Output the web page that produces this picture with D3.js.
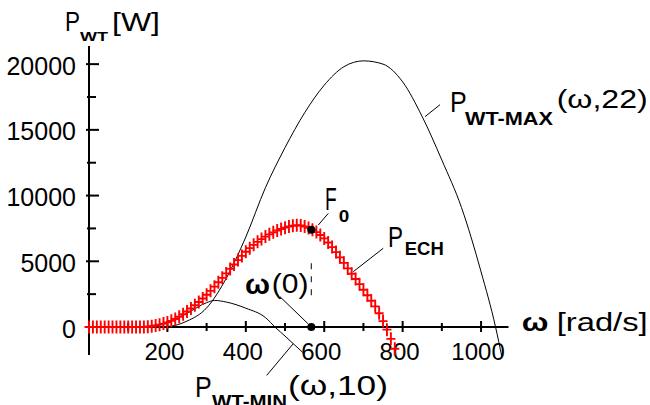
<!DOCTYPE html>
<html>
<head>
<meta charset="utf-8">
<script src="https://cdn.jsdelivr.net/npm/d3@7"></script>
<style>
body { margin: 0; background: #fff; }
svg { display: block; font-family: "Liberation Sans", Arial, sans-serif; }
</style>
</head>
<body>
<script>
// P_WT-MAX(w,22)
const maxOmega = [0, 150, 200, 250, 300, 350, 400, 450, 500, 550, 600, 650, 700, 750, 800, 850, 900, 950, 1000, 1037, 1053]
const maxPower = [0, 0, 40, 450, 1450, 3700, 6850, 10600, 13650, 16300, 18400, 19800, 20250, 20000, 18650, 16000, 12700, 9100, 4200, 0, -2260]

// P_WT-MIN(w,10)
const minOmega = [0, 100, 150, 200, 250, 300, 320, 350, 400, 450, 476, 500, 521, 550]
const minPower = [0, 0, 60, 380, 1050, 1850, 2020, 1900, 1430, 720, -50, -690, -1270, -2060]

// P_ECH markers, one every 10 rad/s
const echOmega = d3.range(0, 790, 10)
const echPower = [
    0, 0, 0, 0, 0, 0, 0, 0, 0, 0, 0, 0, 0, 0, 0,
    20, 60, 110, 180, 260, 350, 470, 610, 780, 970,
    1180, 1410, 1650, 1900, 2170, 2450, 2750, 3070, 3400, 3740,
    4080, 4420, 4760, 5090, 5410, 5720, 6000, 6250, 6480, 6690,
    6880, 7050, 7200, 7340, 7460, 7560, 7650, 7700, 7740, 7720,
    7650, 7540, 7400, 7220, 7000, 6740, 6430, 6080, 5700, 5300,
    4880, 4460, 4050, 3650, 3260, 2840, 2420, 2000, 1570, 1050,
    450, -200, -900, -1650
]

const omega0 = 567
const f0Power = 7400

const xMajor = [200, 400, 600, 800, 1000]
const xMinor = [100, 300, 500, 700, 900]
const yMajor = [0, 5000, 10000, 15000, 20000]
const yMinor = [2500, 7500, 12500, 17500]

const W = 650, H = 405
const svg = d3.select('body').append('svg')
    .attr('width', W)
    .attr('height', H)

const x = d3.scaleLinear().domain([0, 1070]).range([89, 508.5])
const y = d3.scaleLinear().domain([-2130, 21380]).range([355, 46])

// axes
const axes = svg.append('g').attr('stroke', '#000').attr('stroke-width', 2)
axes.append('line')
    .attr('x1', x(0)).attr('x2', x(0))
    .attr('y1', y(21380)).attr('y2', y(-2130))
axes.append('line')
    .attr('x1', x(0)).attr('x2', x(1070))
    .attr('y1', y(0)).attr('y2', y(0))

axes.selectAll('line.ym').data(yMajor).join('line')
    .attr('class', 'ym')
    .attr('x1', x(0) - 3).attr('x2', x(0) + 10)
    .attr('y1', d => y(d)).attr('y2', d => y(d))
axes.selectAll('line.yn').data(yMinor).join('line')
    .attr('class', 'yn')
    .attr('x1', x(0) - 2).attr('x2', x(0) + 7)
    .attr('y1', d => y(d)).attr('y2', d => y(d))
axes.selectAll('line.xm').data(xMajor).join('line')
    .attr('class', 'xm')
    .attr('x1', d => x(d)).attr('x2', d => x(d))
    .attr('y1', y(0) - 6).attr('y2', y(0) + 5)
axes.selectAll('line.xn').data(xMinor).join('line')
    .attr('class', 'xn')
    .attr('x1', d => x(d)).attr('x2', d => x(d))
    .attr('y1', y(0) - 4).attr('y2', y(0) + 4)

svg.selectAll('text.yl').data(yMajor).join('text')
    .attr('class', 'yl')
    .attr('x', x(0) - 13)
    .attr('y', d => y(d) + 10.5)
    .attr('text-anchor', 'end')
    .attr('font-size', 25)
    .text(d => d)
svg.selectAll('text.xl').data(xMajor).join('text')
    .attr('class', 'xl')
    .attr('x', d => x(d) - 3)
    .attr('y', y(0) + 33)
    .attr('text-anchor', 'middle')
    .attr('font-size', 24)
    .text(d => d)

// curves
const line = d3.line()
    .x(d => x(d[0]))
    .y(d => y(d[1]))
    .curve(d3.curveMonotoneX)

svg.append('path')
    .datum(d3.zip(maxOmega, maxPower))
    .attr('d', line)
    .attr('fill', 'none')
    .attr('stroke', '#000')
    .attr('stroke-width', 1)
svg.append('path')
    .datum(d3.zip(minOmega, minPower))
    .attr('d', line)
    .attr('fill', 'none')
    .attr('stroke', '#000')
    .attr('stroke-width', 1)

// dashed drop from F0
svg.append('line')
    .attr('x1', x(omega0)).attr('x2', x(omega0))
    .attr('y1', y(4850)).attr('y2', y(2150))
    .attr('stroke', '#000')
    .attr('stroke-dasharray', '6,7')

svg.append('g').selectAll('path').data(d3.zip(echOmega, echPower)).join('path')
    .attr('d', 'M-4.5,0H4.5M0,-6.5V6.5')
    .attr('transform', d => `translate(${x(d[0])},${y(d[1])})`)
    .attr('stroke', '#ff0000')
    .attr('stroke-width', 1.9)
    .attr('fill', 'none')

svg.selectAll('circle').data([[omega0, f0Power], [omega0, 0]]).join('circle')
    .attr('cx', d => x(d[0]))
    .attr('cy', d => y(d[1]))
    .attr('r', 4)
    .attr('fill', '#000')

// text pieces: [text, dx, dy, size, weight, width]
function pieces(g, parts) {
    parts.forEach(p => {
        g.append('text')
            .attr('x', p[1]).attr('y', p[2])
            .attr('font-size', p[3])
            .attr('font-weight', p[4])
            .attr('textLength', p[5])
            .attr('lengthAdjust', 'spacingAndGlyphs')
            .text(p[0])
    })
}

const notes = [
    { at: [857, 16000], lead: [[0, 0], [15, -12]],
      parts: [['P', 25, -5, 30, 400, 16.7], ['WT-MAX', 40, 8.3, 18, 700, 88], ['(ω,22)', 131.7, -8.7, 25, 400, 91]] },
    { at: [521, -1270], lead: [[0, 0], [-26.6, 31.7]],
      parts: [['P', -98.3, 53.4, 30, 400, 16.7], ['WT-MIN', -81.3, 64.6, 18, 700, 75], ['(ω,10)', -5.3, 51.7, 27, 400, 100]] },
    { at: [674, 4210], lead: [[0, 0], [30, -23.4]],
      parts: [['P', 34.7, -25, 30, 400, 15], ['ECH', 51.5, -16.7, 19, 700, 39]] },
    { at: [omega0, f0Power], lead: [[7, -4.7], [17, -16.4]],
      parts: [['F', 13.7, -19.7, 32, 400, 11.7], ['0', 27.5, -8, 16, 700, 10.5]] },
    { at: [omega0, 0], lead: [[-31.3, -30.3], [-3, -3]],
      parts: [['ω', -66.3, -33, 28, 700, 25], ['(0)', -39.6, -34, 27, 400, 36.7]] }
]

notes.forEach(n => {
    const g = svg.append('g')
        .attr('transform', `translate(${x(n.at[0])},${y(n.at[1])})`)
    g.append('line')
        .attr('x1', n.lead[0][0]).attr('y1', n.lead[0][1])
        .attr('x2', n.lead[1][0]).attr('y2', n.lead[1][1])
        .attr('stroke', '#000')
    pieces(g, n.parts)
})

// axis titles
pieces(svg.append('g'), [
    ['P', 65, 31, 28, 400, 15],
    ['WT', 80, 41, 13, 700, 28],
    ['[W]', 112, 31, 26, 400, 48]
])
pieces(svg.append('g'), [
    ['ω', 521.7, 331, 26, 700, 26.7],
    ['[rad/s]', 556.7, 331, 26, 400, 91]
])
</script>
</body>
</html>
